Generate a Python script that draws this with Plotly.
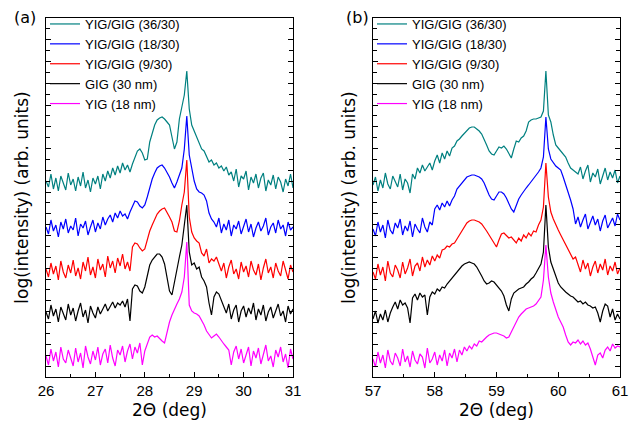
import numpy as np
import plotly.graph_objects as go

# sampling grids (2-theta, deg)
theta_a = np.round(np.arange(101) * 0.05 + 26.0, 2)
theta_b = np.round(np.arange(101) * 0.04 + 57.0, 2)

names = ["YIG/GIG (36/30)", "YIG/GIG (18/30)", "YIG/GIG (9/30)", "GIG (30 nm)", "YIG (18 nm)"]
colors = ["#008080", "#0000ff", "#ff0000", "#000000", "#ff00ff"]

# panel (a): log intensity (arb. units, offset per curve)
a_teal = [196, 190, 203, 188, 199, 186, 201, 194, 187, 204,
          192, 198, 186, 200, 191, 205, 189, 197, 185, 199,
          193, 201, 188, 203, 196,
          206, 199, 209, 202, 211, 204,
          214, 207, 212, 205, 213,
          220, 226, 228, 224, 217, 218, 235, 245, 252, 257, 259, 260, 258, 255, 252, 240, 228, 235,
          258, 270, 282, 306, 268, 252, 246, 240, 234, 228, 226, 220, 215, 217, 212, 214, 209, 211,
          206, 210, 202,
          205, 196, 208, 190, 201, 198, 206, 187, 200, 194, 203, 189, 199, 204, 186, 197, 192, 202,
          188, 200, 195, 185, 198, 191, 203, 189]
a_blue = [150, 143, 157, 146, 152, 140, 155, 148, 158, 144,
          151, 147, 159, 141, 153, 149, 156, 142, 150, 157,
          145, 154, 148, 160, 152,
          158, 162, 155, 164, 159, 166, 161, 163, 158, 165,
          170, 176, 175, 171, 169, 172, 180, 190, 198, 204, 209, 211, 212, 209, 205, 200, 194, 189,
          195, 203, 209, 228, 261, 222, 207, 196, 188, 185, 184, 182, 176, 164, 158,
          155, 150, 159, 144, 153, 147, 157, 141, 152, 148, 156, 143, 150, 158, 145, 153, 140, 149,
          155, 146, 151, 159, 142, 150, 154, 144, 157, 148, 152, 141, 155, 147, 150]
a_red = [108, 100, 114, 103, 111, 97, 116, 105, 99, 112,
         104, 117, 101, 109, 98, 115, 106, 120, 102, 110,
         99, 118, 107, 113, 100, 121, 109, 116, 104, 119,
         111, 123, 108, 115, 106,
         130, 134, 133, 129, 126, 128, 137, 146, 152, 158, 163, 166, 168, 169, 165, 160, 155, 146,
         145, 156, 172, 185, 217, 160, 145, 139, 136, 134, 124, 121, 128, 114, 118, 116, 120, 112,
         106, 114, 99, 110, 117, 103, 108, 98, 115, 105, 111, 100, 116, 107, 102, 113, 97, 109,
         118, 104, 110, 99, 114, 106, 101, 116, 108, 98, 112, 105]
a_black = [65, 58, 72, 61, 68, 55, 70, 63, 57, 73,
           62, 69, 56, 66, 74, 60, 67, 54, 71, 64,
           59, 70, 63, 68, 73, 66, 71, 75, 69, 74,
           72, 76, 70, 78, 56,
           88, 92, 91, 86, 84, 90, 103, 112, 117, 120, 123, 123, 120, 113, 100, 86, 82, 96, 110,
           120, 132, 150, 172, 125, 112, 114, 108, 110, 100, 96, 90, 74, 62, 80, 85, 83, 76,
           70, 64, 73, 58, 67, 72, 55, 66, 71, 60, 69, 63, 74, 57, 68, 62, 72, 56, 65, 70,
           59, 67, 73, 61, 66, 55, 71, 63, 68]
a_mag = [21, 12, 28, 16, 25, 10, 30, 18, 14, 27,
         19, 11, 29, 15, 24, 9, 31, 20, 13, 26,
         17, 30, 12, 23, 28, 14, 32, 19, 11, 27,
         22, 31, 15, 26, 33, 18, 30, 24,
         34, 12, 26, 33, 40, 42, 40, 41, 38, 36, 34, 45, 55, 62, 68, 73, 78, 85, 100, 135,
         72, 66, 64, 63, 61, 57, 52, 46, 42, 39, 41, 43, 40, 36, 33, 30, 27,
         12, 25, 31, 18, 28, 14, 22, 30, 11, 26, 19, 29, 13, 24, 32, 16, 21, 10, 27, 20,
         30, 15, 23, 9, 28, 18]

# panel (b)
b_teal = [192, 200, 186, 197, 189, 204, 193, 188, 201, 195, 190, 203, 187, 198, 194,
          184,
          203, 198, 209, 204, 212, 206, 210, 214, 207,
          216, 222, 214, 224, 218, 226, 221, 229, 231, 236, 238, 241, 244, 247, 249, 250, 250, 248,
          246, 243, 238, 232, 226, 223, 222, 226, 230, 229, 231, 228, 223, 219, 228, 236, 235, 239,
          241, 246, 255, 257, 258, 258, 259, 260, 266, 306, 262, 255, 242, 232, 229, 226, 224, 220,
          214, 209, 207, 205,
          203, 210, 198, 206, 212, 195, 204, 200, 208, 193, 202, 209, 197, 205, 199, 207, 194, 201]
b_blue = [148, 141, 155, 145, 152, 139, 157, 147, 143, 154, 149, 158, 142, 151, 146, 156, 140,
          153, 148, 144, 159, 150, 145, 155,
          152, 168, 172, 167, 174, 170, 176, 171, 177, 181, 188, 191, 195, 198, 200, 201, 202, 202,
          201, 200, 198, 194, 188, 182, 178, 177, 181, 185, 185, 183, 179, 174, 168, 165, 172, 178,
          182, 186, 189, 192, 195, 198, 201, 205, 209, 220, 260, 228, 218, 214, 211, 209, 207, 200,
          193, 185, 177, 168, 153,
          160, 150, 157, 163, 148, 155, 161, 152, 158, 146, 156, 162, 149, 154, 159, 151, 163, 157]
b_red = [105, 98, 113, 102, 110, 96, 116, 104, 100, 112, 107, 99, 115, 103, 109, 118, 101, 111,
         114, 106, 120, 110, 117, 112, 121,
         116, 122, 119, 127, 128, 131, 130, 133, 134, 138, 142, 147, 151, 154, 156, 157, 157, 156,
         155, 153, 150, 146, 142, 138, 133, 130, 137, 143, 144, 141, 139, 140, 137, 134, 139, 136,
         142, 139, 144, 141, 146, 145, 152, 157, 170, 214, 180, 165, 158, 152, 147, 142, 137, 132,
         127, 122, 118, 120,
         112, 105, 117, 108, 114, 101, 110, 116, 104, 113, 107, 118, 102, 111, 106, 115, 103, 109]
b_black = [58, 66, 54, 63, 57, 67, 55, 64, 70, 75, 68, 77, 72, 74, 69,
           54,
           79, 83, 77, 84, 80, 82,
           62,
           80, 85,
           83, 88, 86, 90, 89, 93, 96, 100, 103, 106, 109, 111, 113, 114, 115, 114, 113, 110, 106,
           101, 96, 93, 94, 96, 95, 92, 89, 86, 81, 72, 66, 78, 84, 86, 88, 89, 90, 93, 95, 98, 100,
           104, 108, 113, 125, 172, 130, 115, 108, 100, 94, 90, 87, 85, 83, 81, 80, 77, 75, 76, 73,
           75, 72, 71, 69, 70, 64, 55, 66, 73, 71, 60, 68, 57, 63, 58]
b_mag = [18, 10, 25, 14, 22, 9, 27, 16, 12, 24, 19, 11, 28, 15, 21, 10, 26, 17, 13, 23,
         20, 9, 29, 14, 18, 25, 12, 22, 16, 27, 11, 24, 19, 28, 15,
         27, 22, 30, 26, 31, 28, 33, 31, 36, 35, 38, 40, 42, 43, 44, 44, 43, 42, 41, 39, 40, 45,
         50, 55, 60, 63, 66, 68, 69, 70, 71, 73, 76, 80, 97, 132, 100, 84, 75, 67, 60, 55, 50, 42,
         35, 32, 35, 34, 37, 33, 36, 32, 34, 28, 20, 12, 22, 24, 19, 27, 30, 26, 33, 29, 31, 30]

series_a = [a_teal, a_blue, a_red, a_black, a_mag]
series_b = [b_teal, b_blue, b_red, b_black, b_mag]

fig = go.Figure()
for nm, col, ys in zip(names, colors, series_a):
    fig.add_trace(go.Scatter(x=theta_a, y=ys, mode="lines", name=nm,
                             line=dict(color=col, width=1.2),
                             xaxis="x", yaxis="y", legend="legend"))
for nm, col, ys in zip(names, colors, series_b):
    fig.add_trace(go.Scatter(x=theta_b, y=ys, mode="lines", name=nm,
                             line=dict(color=col, width=1.2),
                             xaxis="x2", yaxis="y2", legend="legend2"))

W, H = 641, 424
U = 359 / 33.0
tickfont = dict(family="Liberation Sans, Arial", size=15, color="black")
titlefont = dict(family="DejaVu Sans", size=17, color="black")

def xax(dom, rng):
    return dict(domain=dom, range=rng, showline=True, linecolor="black", linewidth=1,
                mirror=True, ticks="inside", ticklen=5, tickcolor="black", dtick=1,
                tickfont=tickfont, showgrid=False, zeroline=False, automargin=False,
                minor=dict(ticks="inside", ticklen=3, dtick=0.5, tickcolor="black", showgrid=False),
                title=dict(text="2Θ (deg)", font=titlefont, standoff=6))

def yax(dom, anchor):
    return dict(domain=dom, range=[0, 359], anchor=anchor, showline=True, linecolor="black",
                linewidth=1, mirror="ticks", ticks="inside", ticklen=5, tickcolor="black",
                tick0=U, dtick=2 * U, showticklabels=False, showgrid=False, zeroline=False,
                automargin=False,
                minor=dict(ticks="inside", ticklen=4, tick0=0, dtick=U, tickcolor="black",
                           showgrid=False),
                title=dict(text="log(intensity) (arb. units)", font=titlefont, standoff=12))

ydom = [1 - 377 / H, 1 - 18 / H]
legfont = dict(family="Liberation Sans, Arial", size=13, color="black")
fig.update_layout(
    width=W, height=H, margin=dict(l=0, r=0, t=0, b=0, autoexpand=False),
    paper_bgcolor="white", plot_bgcolor="white", showlegend=True,
    xaxis=xax([46 / W, 293 / W], [26, 31]),
    yaxis=yax(ydom, "x"),
    xaxis2=xax([373 / W, 620 / W], [57, 61]),
    yaxis2=yax(ydom, "x2"),
    legend=dict(x=45 / W, y=1 - 9 / H, xanchor="left", yanchor="top",
                bgcolor="rgba(0,0,0,0)", borderwidth=0, font=legfont),
    legend2=dict(x=372 / W, y=1 - 9 / H, xanchor="left", yanchor="top",
                 bgcolor="rgba(0,0,0,0)", borderwidth=0, font=legfont),
    annotations=[
        dict(text="(a)", x=12 / W, y=1 - 17 / H, xref="paper", yref="paper",
             xanchor="left", yanchor="middle", showarrow=False,
             font=dict(family="DejaVu Sans", size=16, color="black")),
        dict(text="(b)", x=344 / W, y=1 - 17 / H, xref="paper", yref="paper",
             xanchor="left", yanchor="middle", showarrow=False,
             font=dict(family="DejaVu Sans", size=16, color="black")),
    ],
)

fig.write_html("out.html", config={"displayModeBar": False},
               post_script="document.body.style.margin='0px';")
